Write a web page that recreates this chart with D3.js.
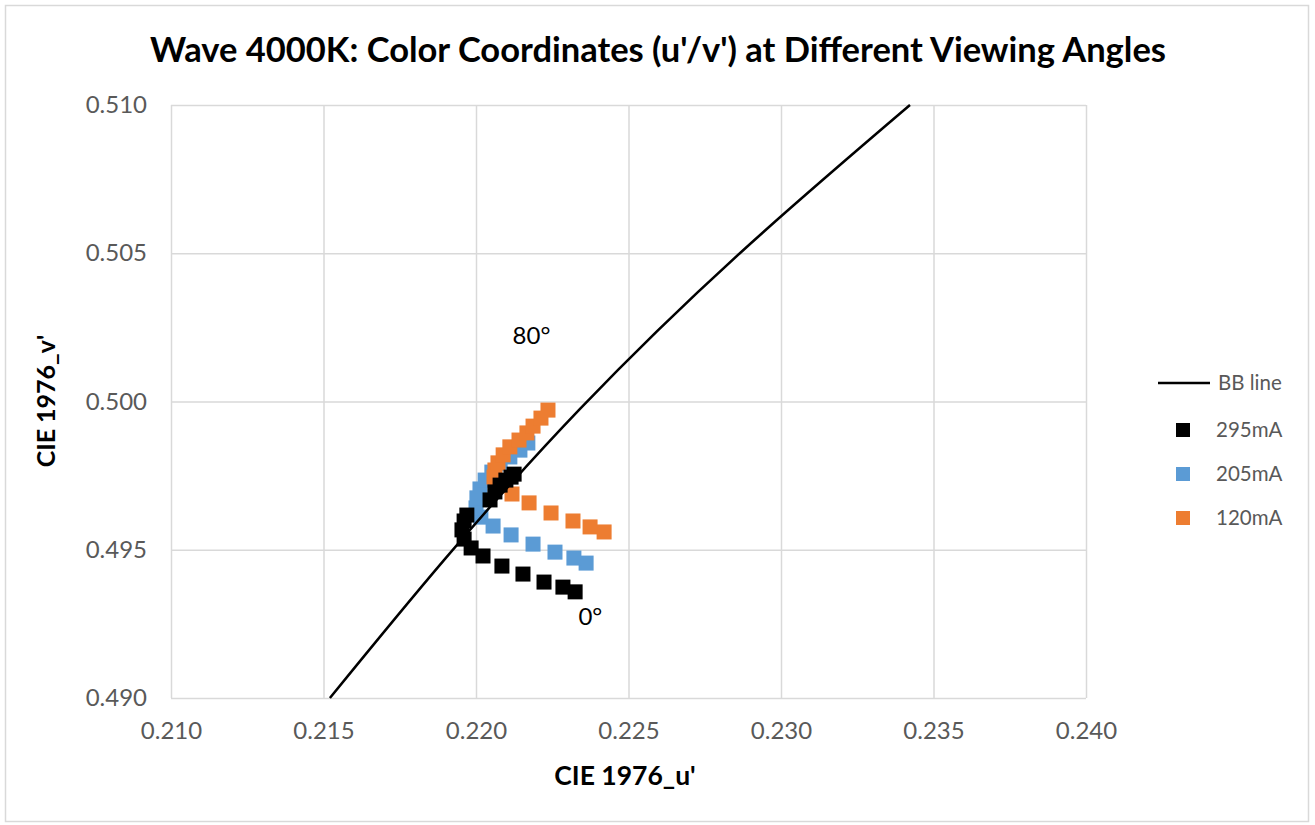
<!DOCTYPE html>
<html>
<head>
<meta charset="utf-8">
<script src="https://cdn.jsdelivr.net/npm/d3@7"></script>
<style>
  body { margin: 0; background: #fff; }
  svg text { font-family: Lato, "Open Sans", sans-serif; }
  .grid line { stroke: #d9d9d9; stroke-width: 1.5; }
  .grid path { display: none; }
  .tick-lbl text { fill: #595959; font-size: 24px; }
  .tick-lbl path, .tick-lbl line { display: none; }
</style>
</head>
<body>
<div id="chart"></div>
<script>
// x / y axis ticks
const xTicks = [0.210, 0.215, 0.220, 0.225, 0.230, 0.235, 0.240];
const yTicks = [0.490, 0.495, 0.500, 0.505, 0.510];

// black body locus
const bbU = [0.21521, 0.21895, 0.22341, 0.22866, 0.23423];
const bbV = [0.49000, 0.49465, 0.49975, 0.50501, 0.51000];

// 295mA, 0deg -> 80deg
const u295 = [0.22325, 0.22285, 0.22223, 0.22154, 0.22085, 0.22023, 0.21984, 0.21961, 0.21954, 0.21961, 0.21970, 0.22046, 0.22062, 0.22079, 0.22098, 0.22115, 0.22125];
const v295 = [0.49358, 0.49374, 0.49391, 0.49418, 0.49445, 0.49479, 0.49506, 0.49536, 0.49567, 0.49597, 0.49617, 0.49668, 0.49695, 0.49718, 0.49735, 0.49745, 0.49755];

// 205mA
const u205 = [0.22361, 0.22321, 0.22259, 0.22187, 0.22115, 0.22056, 0.22016, 0.22000, 0.22003, 0.22013, 0.22030, 0.22052, 0.22079, 0.22111, 0.22144, 0.22170];
const v205 = [0.49455, 0.49472, 0.49492, 0.49519, 0.49550, 0.49580, 0.49610, 0.49641, 0.49675, 0.49705, 0.49735, 0.49762, 0.49789, 0.49813, 0.49836, 0.49860];

// 120mA
const u120 = [0.22420, 0.22374, 0.22318, 0.22246, 0.22174, 0.22118, 0.22069, 0.22059, 0.22062, 0.22072, 0.22089, 0.22111, 0.22141, 0.22167, 0.22187, 0.22213, 0.22236];
const v120 = [0.49560, 0.49577, 0.49597, 0.49624, 0.49658, 0.49688, 0.49715, 0.49745, 0.49769, 0.49793, 0.49820, 0.49847, 0.49870, 0.49894, 0.49917, 0.49944, 0.49971];

const seriesNames = ["295mA", "205mA", "120mA"];
const seriesColors = ["#000000", "#5b9bd5", "#ed7d31"];

const svg = d3.select("#chart").append("svg")
    .attr("width", 1315)
    .attr("height", 825);

// chart frame
svg.append("rect")
    .attr("x", 5.5).attr("y", 5.5)
    .attr("width", 1303).attr("height", 816)
    .attr("fill", "#fff")
    .attr("stroke", "#d9d9d9")
    .attr("stroke-width", 1.5);

const margin = {top: 105, left: 171};
const width = 915;
const height = 593;
const g = svg.append("g").attr("transform", "translate(" + margin.left + "," + margin.top + ")");

const x = d3.scaleLinear().domain([0.210, 0.240]).range([0, width]);
const y = d3.scaleLinear().domain([0.490, 0.510]).range([height, 0]);

// grid
g.append("g")
    .attr("class", "grid")
    .call(d3.axisLeft(y).tickValues(yTicks).tickSize(-width).tickFormat(""));
g.append("g")
    .attr("class", "grid")
    .attr("transform", "translate(0," + height + ")")
    .call(d3.axisBottom(x).tickValues(xTicks).tickSize(-height).tickFormat(""));

// tick labels
g.append("g")
    .attr("class", "tick-lbl")
    .attr("transform", "translate(0," + height + ")")
    .call(d3.axisBottom(x).tickValues(xTicks).tickSize(0).tickPadding(24).tickFormat(d3.format(".3f")));
g.append("g")
    .attr("class", "tick-lbl")
    .call(d3.axisLeft(y).tickValues(yTicks).tickSize(0).tickPadding(24).tickFormat(d3.format(".3f")));

// markers
const sz = 15;
const order = [1, 2, 0];
const allU = [u295, u205, u120];
const allV = [v295, v205, v120];
order.forEach(i => {
    const pts = allU[i].map((u, k) => [u, allV[i][k]]);
    g.selectAll("rect.s" + i)
        .data(pts)
        .enter()
        .append("rect")
            .attr("class", "s" + i)
            .attr("x", d => x(d[0]) - sz / 2)
            .attr("y", d => y(d[1]) - sz / 2)
            .attr("width", sz)
            .attr("height", sz)
            .attr("fill", seriesColors[i]);
});

// BB line
const bb = bbU.map((u, k) => [u, bbV[k]]);
const line = d3.line()
    .x(d => x(d[0]))
    .y(d => y(d[1]))
    .curve(d3.curveNatural);
g.append("path")
    .datum(bb)
    .attr("d", line)
    .attr("fill", "none")
    .attr("stroke", "#000")
    .attr("stroke-width", 2.5);

// angle labels
g.append("text")
    .attr("x", x(0.22182)).attr("y", y(0.50193))
    .attr("text-anchor", "middle")
    .style("font-size", "24px")
    .text("80°");
g.append("text")
    .attr("x", x(0.22375)).attr("y", y(0.49245))
    .attr("text-anchor", "middle")
    .style("font-size", "24px")
    .text("0°");

// title & axis titles
svg.append("text")
    .attr("x", 658).attr("y", 62)
    .attr("text-anchor", "middle")
    .style("font-size", "34.5px")
    .style("font-weight", "bold")
    .text("Wave 4000K: Color Coordinates (u'/v') at Different Viewing Angles");
svg.append("text")
    .attr("x", 625).attr("y", 785)
    .attr("text-anchor", "middle")
    .style("font-size", "26.5px")
    .style("font-weight", "bold")
    .text("CIE 1976_u'");
svg.append("text")
    .attr("transform", "translate(55,401) rotate(-90)")
    .attr("text-anchor", "middle")
    .style("font-size", "25px")
    .style("font-weight", "bold")
    .text("CIE 1976_v'");

// legend
const lg = svg.append("g").attr("transform", "translate(1158,383)");
lg.append("line")
    .attr("x1", 0).attr("x2", 52).attr("y1", 0).attr("y2", 0)
    .attr("stroke", "#000").attr("stroke-width", 2.5);
lg.append("text")
    .attr("x", 60).attr("y", 7)
    .style("font-size", "20.5px").attr("fill", "#595959")
    .text("BB line");
seriesNames.forEach((name, i) => {
    const yy = 47 + i * 44;
    lg.append("rect")
        .attr("x", 25 - 7).attr("y", yy - 7)
        .attr("width", 14).attr("height", 14)
        .attr("fill", seriesColors[i]);
    lg.append("text")
        .attr("x", 58).attr("y", yy + 7)
        .style("font-size", "20.5px").attr("fill", "#595959")
        .text(name);
});
</script>
</body>
</html>
